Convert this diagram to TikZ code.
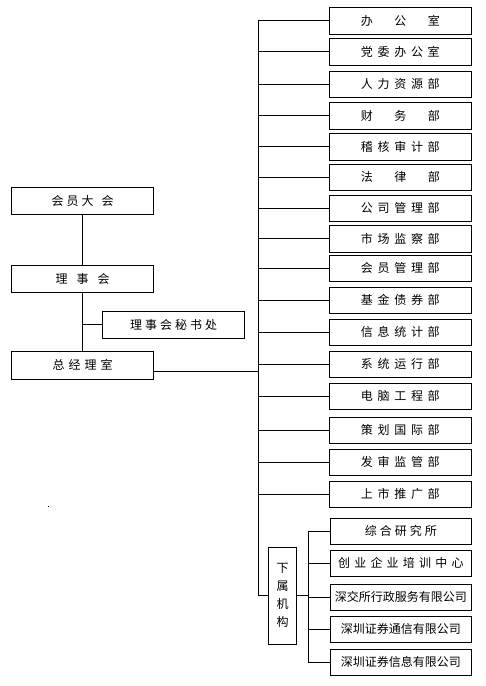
\documentclass[tikz,border=0pt]{standalone}
\usepackage{fontspec}
\newfontfamily\cjk{Noto Sans CJK SC}
\usetikzlibrary{calc}
\newcommand\gp[1]{\hspace{#1pt}}
\begin{document}
\begin{tikzpicture}[x=1pt,y=-1pt,
  bx/.style={draw, line width=0.9pt, inner sep=0pt, outer sep=0pt, font=\cjk\fontsize{12}{14}\selectfont, anchor=center},
  rb/.style={bx, minimum width=142pt, minimum height=26.5pt},
  sb/.style={bx, minimum width=141pt, minimum height=26pt},
  lb/.style={bx, minimum width=142pt, minimum height=27pt},
  ln/.style={line width=0.9pt}]
\useasboundingbox (0,0) rectangle (486,686);
\fill[white] (0,0) rectangle (486,686);
% left column
\node[lb] (hy) at (82.7,201.3) {会\gp{3}员\gp{3}大\gp{8}会};
\node[lb] (lsh) at (82.7,279) {理\gp{9}事\gp{9}会};
\node[bx, minimum width=142.4pt, minimum height=26.3pt] (msc) at (173.5,324.8) {理\gp{3}事\gp{3}会\gp{3}秘\gp{3}书\gp{3}处};
\node[bx, minimum width=142pt, minimum height=28pt] (zj) at (82.7,365) {总\gp{4}经\gp{4}理\gp{4}室};
\coordinate (tk) at (258.5,23.3);
\coordinate (zjout) at ($(zj.east)+(0,6)$);
\draw[ln] (hy.south) -- (lsh.south |- hy.south) (lsh.north) -- (hy.south -| lsh.north);
\draw[ln] (lsh.south) -- (zj.north);
\draw[ln] (msc.west) -- (msc.west -| lsh.south);
\draw[ln] (zjout) -- (zjout -| tk);
% right column
\node[rb] (r1) at (400.3,20.8) {办\gp{21.5}公\gp{21.5}室};
\node[rb] (r2) at (400.3,51.7) {党\gp{4.7}委\gp{4.7}办\gp{4.7}公\gp{4.7}室};
\node[rb] (r3) at (400.3,84.2) {人\gp{4.7}力\gp{4.7}资\gp{4.7}源\gp{4.7}部};
\node[rb] (r4) at (400.3,115.7) {财\gp{21.5}务\gp{21.5}部};
\node[rb] (r5) at (400.3,146.7) {稽\gp{4.7}核\gp{4.7}审\gp{4.7}计\gp{4.7}部};
\node[rb] (r6) at (400.3,177.3) {法\gp{21.5}律\gp{21.5}部};
\node[rb] (r7) at (400.3,208.3) {公\gp{4.7}司\gp{4.7}管\gp{4.7}理\gp{4.7}部};
\node[rb] (r8) at (400.3,238.7) {市\gp{4.7}场\gp{4.7}监\gp{4.7}察\gp{4.7}部};
\node[rb] (r9) at (400.3,268.3) {会\gp{4.7}员\gp{4.7}管\gp{4.7}理\gp{4.7}部};
\node[rb] (r10) at (400.3,300.3) {基\gp{4.7}金\gp{4.7}债\gp{4.7}券\gp{4.7}部};
\node[rb] (r11) at (400.3,332.2) {信\gp{4.7}息\gp{4.7}统\gp{4.7}计\gp{4.7}部};
\node[rb] (r12) at (400.3,364.2) {系\gp{4.7}统\gp{4.7}运\gp{4.7}行\gp{4.7}部};
\node[rb] (r13) at (400.3,396.2) {电\gp{4.7}脑\gp{4.7}工\gp{4.7}程\gp{4.7}部};
\node[rb] (r14) at (400.3,430.3) {策\gp{4.7}划\gp{4.7}国\gp{4.7}际\gp{4.7}部};
\node[rb] (r15) at (400.3,462.3) {发\gp{4.7}审\gp{4.7}监\gp{4.7}管\gp{4.7}部};
\node[rb] (r16) at (400.3,494.2) {上\gp{4.7}市\gp{4.7}推\gp{4.7}广\gp{4.7}部};
% subsidiaries
\node[bx, minimum width=28.4pt, minimum height=97pt, align=center, font=\cjk\fontsize{12}{18}\selectfont] (xs) at (282.5,595.5) {下\\属\\机\\构};
\node[sb] (s1) at (400.8,531.2) {综\gp{3}合\gp{3}研\gp{3}究\gp{3}所};
\node[sb] (s2) at (400.8,563.3) {创\gp{4.2}业\gp{4.2}企\gp{4.2}业\gp{4.2}培\gp{4.2}训\gp{4.2}中\gp{4.2}心};
\node[sb] (s3) at (400.8,597.2) {深交所行政服务有限公司};
\node[sb] (s4) at (400.8,629.2) {深圳证券通信有限公司};
\node[sb] (s5) at (400.8,662.3) {深圳证券信息有限公司};
\coordinate (tk2) at (308.7,531.2);
% main trunk
\draw[ln] (r1.west) -- (r1.west -| tk) -- (xs.west -| tk) -- (xs.west);
\foreach \n in {r2,r3,r4,r5,r6,r7,r8,r9,r10,r11,r12,r13,r14,r15,r16}
  \draw[ln] (\n.west -| tk) -- (\n.west);
% sub trunk
\draw[ln] (s1.west) -- (s1.west -| tk2) -- (s5.west -| tk2) -- (s5.west);
\foreach \n in {s2,s3,s4}
  \draw[ln] (\n.west -| tk2) -- (\n.west);
\draw[ln] (xs.east) -- (xs.east -| tk2);
\fill[black] (47.8,505.5) rectangle (48.8,506.5);
\end{tikzpicture}
\end{document}
